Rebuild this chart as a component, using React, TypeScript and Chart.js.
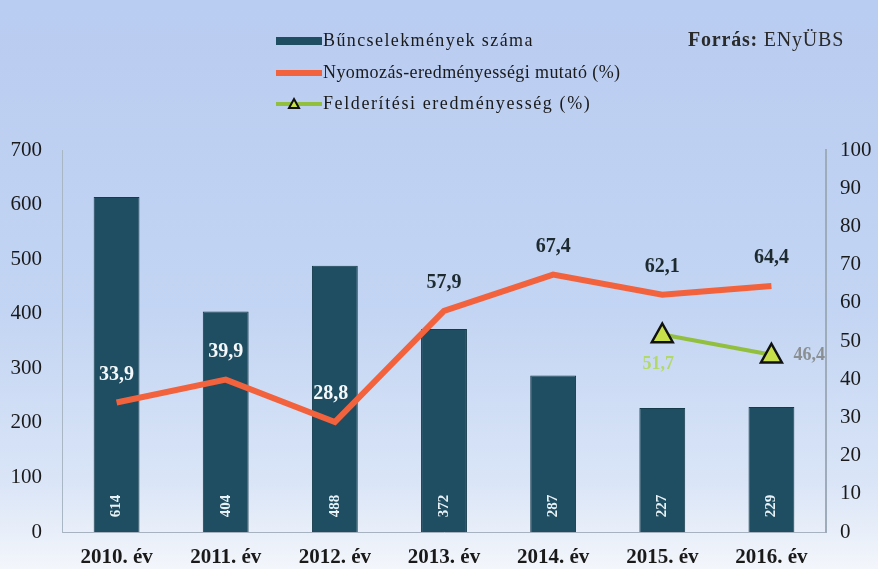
import React, { useEffect, useRef } from "react";
import { Chart, registerables } from "chart.js";

Chart.register(...registerables);

const categories = ["2010. év", "2011. év", "2012. év", "2013. év", "2014. év", "2015. év", "2016. év"];
const crimes = [614, 404, 488, 372, 287, 227, 229];
const investigation = [33.9, 39.9, 28.8, 57.9, 67.4, 62.1, 64.4];
const detection: (number | null)[] = [null, null, null, null, null, 51.7, 46.4];
const leftTicks = [0, 100, 200, 300, 400, 500, 600, 700];
const rightTicks = [0, 10, 20, 30, 40, 50, 60, 70, 80, 90, 100];

const seriesNames = ["Bűncselekmények száma", "Nyomozás-eredményességi mutató (%)", "Felderítési eredményesség (%)"];
const sourceLabel = "Forrás:";
const sourceName = " ENyÜBS";

const SERIF = "'Liberation Serif', 'DejaVu Serif', serif";
const BAR = "#1f4d61";
const ORANGE = "#f2623d";
const GREEN = "#93bf3f";

const fmt = (v: number) => v.toFixed(1).replace(".", ",");

function triangle(ctx: CanvasRenderingContext2D, x: number, y: number, r: number) {
  ctx.beginPath();
  ctx.moveTo(x, y - r);
  ctx.lineTo(x + r * 0.95, y + r * 0.7);
  ctx.lineTo(x - r * 0.95, y + r * 0.7);
  ctx.closePath();
  ctx.fillStyle = "#c8e04a";
  ctx.fill();
  ctx.lineWidth = 2.5;
  ctx.strokeStyle = "#111";
  ctx.stroke();
}

const bgPlugin = {
  id: "bg",
  beforeDraw(chart: any) {
    const { ctx, width, height } = chart;
    const g = ctx.createLinearGradient(0, 0, 0, height);
    g.addColorStop(0, "#b9ccf1");
    g.addColorStop(0.55, "#c3d5f3");
    g.addColorStop(0.85, "#dae5f7");
    g.addColorStop(1, "#f3f6fb");
    ctx.save();
    ctx.fillStyle = g;
    ctx.fillRect(0, 0, width, height);
    ctx.restore();
  },
};

const overlayPlugin = {
  id: "overlay",
  afterDatasetsDraw(chart: any) {
    const { ctx } = chart;
    ctx.save();
    const barMeta = chart.getDatasetMeta(0);
    barMeta.data.forEach((el: any, i: number) => {
      ctx.save();
      ctx.translate(el.x, el.base - 26);
      ctx.rotate(-Math.PI / 2);
      ctx.font = `bold 15px ${SERIF}`;
      ctx.fillStyle = "#e8f2f6";
      ctx.textAlign = "center";
      ctx.textBaseline = "middle";
      ctx.fillText(String(crimes[i]), 0, 0);
      ctx.restore();
    });
    const lineMeta = chart.getDatasetMeta(1);
    lineMeta.data.forEach((el: any, i: number) => {
      const inside = i < 3;
      ctx.font = `bold 20px ${SERIF}`;
      ctx.fillStyle = inside ? "#f4f8fa" : "#1d2b30";
      ctx.textAlign = "center";
      ctx.textBaseline = "middle";
      const dx = i === 2 ? -4 : 0;
      ctx.fillText(fmt(investigation[i]), el.x + dx, el.y - 28);
    });
    const gMeta = chart.getDatasetMeta(2);
    gMeta.data.forEach((el: any, i: number) => {
      const v = detection[i];
      if (v == null) return;
      ctx.font = `bold 18px ${SERIF}`;
      ctx.textBaseline = "middle";
      if (i === 5) {
        ctx.fillStyle = "#b3d86a";
        ctx.textAlign = "center";
        ctx.fillText(fmt(v), el.x - 4, el.y + 30);
      } else {
        ctx.fillStyle = "#8a8f92";
        ctx.textAlign = "left";
        ctx.fillText(fmt(v), el.x + 22, el.y + 1);
      }
    });
    ctx.restore();
  },
  afterDraw(chart: any) {
    const { ctx } = chart;
    ctx.save();
    const sx0 = 276, sx1 = 322, tx = 323;
    const ys = [41, 73, 104];
    ctx.fillStyle = BAR;
    ctx.fillRect(sx0, ys[0] - 4, sx1 - sx0, 8);
    ctx.fillStyle = ORANGE;
    ctx.fillRect(sx0, ys[1] - 3, sx1 - sx0, 6);
    ctx.fillStyle = GREEN;
    ctx.fillRect(sx0, ys[2] - 2, sx1 - sx0, 4);
    ctx.beginPath();
    ctx.moveTo(294, ys[2] - 5);
    ctx.lineTo(299, ys[2] + 4);
    ctx.lineTo(289, ys[2] + 4);
    ctx.closePath();
    ctx.fillStyle = "#c8e04a";
    ctx.fill();
    ctx.lineWidth = 2;
    ctx.strokeStyle = "#111";
    ctx.stroke();
    ctx.font = `18px ${SERIF}`;
    ctx.fillStyle = "#1a1a1a";
    ctx.textAlign = "left";
    ctx.textBaseline = "middle";
    const spacing = ["1.4px", "0.4px", "1.6px"];
    seriesNames.forEach((n, i) => {
      (ctx as any).letterSpacing = spacing[i];
      ctx.fillText(n, tx, ys[i]);
    });
    (ctx as any).letterSpacing = "0.8px";
    ctx.font = `bold 20px ${SERIF}`;
    ctx.fillStyle = "#2a2a2a";
    const w = ctx.measureText(sourceLabel).width;
    ctx.fillText(sourceLabel, 688, 41);
    ctx.font = `20px ${SERIF}`;
    ctx.fillText(sourceName, 688 + w, 41);
    ctx.restore();
  },
};

export default function App() {
  const ref = useRef<HTMLCanvasElement>(null);
  useEffect(() => {
    document.body.style.margin = "0";
    const canvas = ref.current!;
    const chart = new Chart(canvas, {
      data: {
        labels: categories,
        datasets: [
          {
            type: "bar",
            label: seriesNames[0],
            data: crimes,
            yAxisID: "y",
            backgroundColor: BAR,
            borderColor: "#163b4b",
            borderWidth: 1,
            barPercentage: 0.42,
            categoryPercentage: 1,
            order: 3,
          },
          {
            type: "line",
            label: seriesNames[1],
            data: investigation,
            yAxisID: "y1",
            borderColor: ORANGE,
            borderWidth: 6,
            pointRadius: 0,
            tension: 0,
            order: 2,
          },
          {
            type: "line",
            label: seriesNames[2],
            data: detection,
            yAxisID: "y1",
            borderColor: GREEN,
            borderWidth: 4,
            pointStyle: "triangle",
            pointRadius: 0,
            tension: 0,
            order: 1,
          },
        ] as any,
      },
      options: {
        responsive: false,
        animation: false,
        layout: { padding: { top: 150, left: 0, right: 0, bottom: 0 } },
        plugins: { legend: { display: false }, tooltip: { enabled: false } },
        scales: {
          x: {
            grid: { display: false },
            border: { color: "#a6b2bf", width: 1 },
            ticks: { font: { family: SERIF, size: 21, weight: "bold" }, color: "#1a1a1a", padding: 5 },
            afterFit: (s: any) => { s.height = 37; },
          },
          y: {
            position: "left",
            min: 0,
            max: 700,
            afterBuildTicks: (s: any) => { s.ticks = leftTicks.map((v) => ({ value: v })); },
            grid: { display: false },
            border: { color: "#a9b6c4", width: 1 },
            ticks: { font: { family: SERIF, size: 21 }, color: "#1a1a1a", padding: 12 },
            afterFit: (s: any) => { s.width = 62; },
          },
          y1: {
            position: "right",
            min: 0,
            max: 100,
            afterBuildTicks: (s: any) => { s.ticks = rightTicks.map((v) => ({ value: v })); },
            grid: { display: false },
            border: { color: "#9eacba", width: 2 },
            ticks: { font: { family: SERIF, size: 21 }, color: "#1a1a1a", padding: 6 },
            afterFit: (s: any) => { s.width = 52; },
          },
        },
      } as any,
      plugins: [bgPlugin, overlayPlugin, {
        id: "tri",
        afterDatasetsDraw(chart: any) {
          const meta = chart.getDatasetMeta(2);
          meta.data.forEach((el: any, i: number) => {
            if (detection[i] == null) return;
            triangle(chart.ctx, el.x, el.y, 11);
          });
        },
      }],
    });
    return () => chart.destroy();
  }, []);
  return <canvas ref={ref} width={878} height={569} style={{ display: "block" }} />;
}
